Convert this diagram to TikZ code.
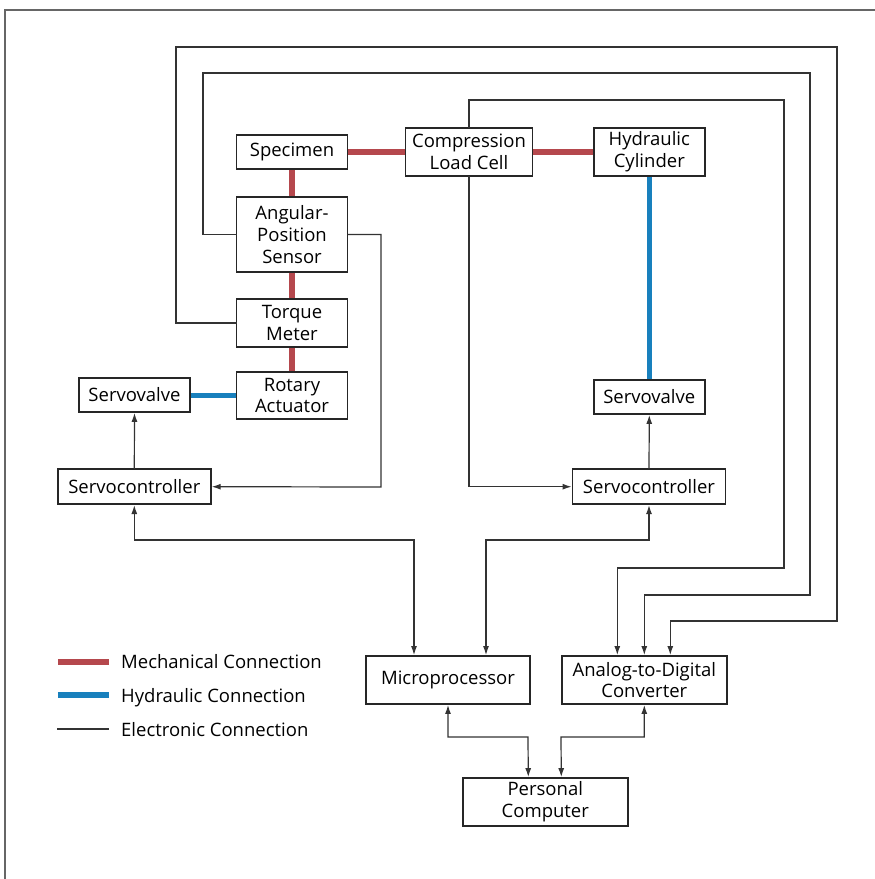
\documentclass[tikz,border=0pt]{standalone}
\usepackage{fontspec}
\setmainfont{Open Sans}
\usetikzlibrary{arrows.meta,positioning}
\definecolor{mechred}{RGB}{181,72,77}
\definecolor{hydblue}{RGB}{24,128,189}
\tikzset{unitbox/.style={
    % The shape:
    rectangle,
    % The size:
    minimum width=111pt,
    minimum height=34pt,
    inner sep=0pt,
    outer sep=0pt,
    % The border:
    line width=1.9pt,
    draw=black!85,
    % Font
    font=\fontsize{18.5}{21.7}\selectfont,
    align=center
    },
    mech/.style={line width=5.5pt, draw=mechred, shorten <=0.9pt, shorten >=0.9pt},
    hydr/.style={line width=5.5pt, draw=hydblue, shorten <=0.9pt, shorten >=0.9pt},
    elec/.style={line width=1.2pt, draw=black!80, shorten >=0.9pt, -{Latex[length=9pt,width=6pt]}},
    both/.style={elec, shorten <=0.9pt, {Latex[length=9pt,width=6pt]}-{Latex[length=9pt,width=6pt]}},
    legendtext/.style={font=\fontsize{18.5}{21.7}\selectfont, inner sep=0pt, anchor=base west},
}

\begin{document}
\begin{tikzpicture}[x=1pt,y=-1pt,node distance=27pt and 57pt]
    \useasboundingbox (0,0) rectangle (875,879);
    \draw[black!60,line width=1.5pt] (5,880) -- (5,10) -- (876,10);

    % torsion side
    \node (spec)     [unitbox] at (292,152) {Specimen};
    \node (aps)      [unitbox,below=28pt of spec,minimum height=75pt] {Angular-\\Position\\Sensor};
    \node (torque)   [unitbox,below=of aps,minimum height=48pt] {Torque\\Meter};
    \node (rotary)   [unitbox,below=25pt of torque,minimum height=47pt] {Rotary\\Actuator};
    \node (valveL)   [unitbox] at (134.5,395) {Servovalve};
    \node (ctrlL)    [unitbox,minimum width=153pt,minimum height=35pt] at (134.3,486.7) {Servocontroller};

    % axial side
    \node (loadcell) [unitbox,minimum width=127pt,minimum height=48pt] at (469,152) {Compression\\Load Cell};
    \node (cylinder) [unitbox,minimum height=48pt] at (649.3,152) {Hydraulic\\Cylinder};
    \node (valveR)   [unitbox] at (649.3,397) {Servovalve};
    \node (ctrlR)    [unitbox,minimum width=153pt,minimum height=35pt] at (649,486.7) {Servocontroller};

    \node (micro)    [unitbox,minimum width=164pt,minimum height=48pt] at (448,680) {Microprocessor};
    \node (adc)      [unitbox,minimum width=165pt,minimum height=48pt] at (644.3,680) {Analog-to-Digital\\Converter};
    \node (pc)       [unitbox,minimum width=165pt,minimum height=48pt] at (545.3,802) {Personal\\Computer};

    \draw[mech] (spec.east) -- (loadcell.west);
    \draw[mech] (loadcell.east) -- (cylinder.west);
    \draw[mech] (spec.south) -- (aps.north);
    \draw[mech] (aps.south) -- (torque.north);
    \draw[mech] (torque.south) -- (rotary.north);
    \draw[hydr] (rotary.west) -- (rotary.west -| valveL.east);
    \draw[hydr] (cylinder.south) -- (valveR.north);

    \draw[elec] (torque.west) -| (176,47) -| (837,621) -| ([xshift=26pt]adc.north);
    \draw[elec] (aps.west) -| (203,73) -| (810,595) -| (adc.north);
    \draw[elec] (loadcell.north) |- (784,100) -- (784,568) -| ([xshift=-27pt]adc.north);
    \draw[elec] (loadcell.south) |- (ctrlR.west);
    \draw[elec] (aps.east) -| (381,487) -- (ctrlL.east);
    \draw[elec] (ctrlL.north) -- (valveL.south);
    \draw[elec] (ctrlR.north) -- (valveR.south);
    \draw[both] (ctrlL.south) |- (414,540) -- ([xshift=-34pt]micro.north);
    \draw[both] (ctrlR.south) |- (486,540) -- ([xshift=38pt]micro.north);
    \draw[both] (micro.south) |- (528,737) -- ([xshift=-17pt]pc.north);
    \draw[both] (adc.south) |- (561,737) -- ([xshift=16pt]pc.north);

    % legend
    \draw[mech] (57,662) -- (110,662);
    \node (lgmech) [legendtext] at (121,668.3) {Mechanical Connection};
    \draw[hydr] (57,695) -- (110,695);
    \node (lghydr) [legendtext] at (121,702.5) {Hydraulic Connection};
    \draw[elec,-] (57,729) -- (110,729);
    \node (lgelec) [legendtext] at (121,736) {Electronic Connection};
\end{tikzpicture}
\end{document}
